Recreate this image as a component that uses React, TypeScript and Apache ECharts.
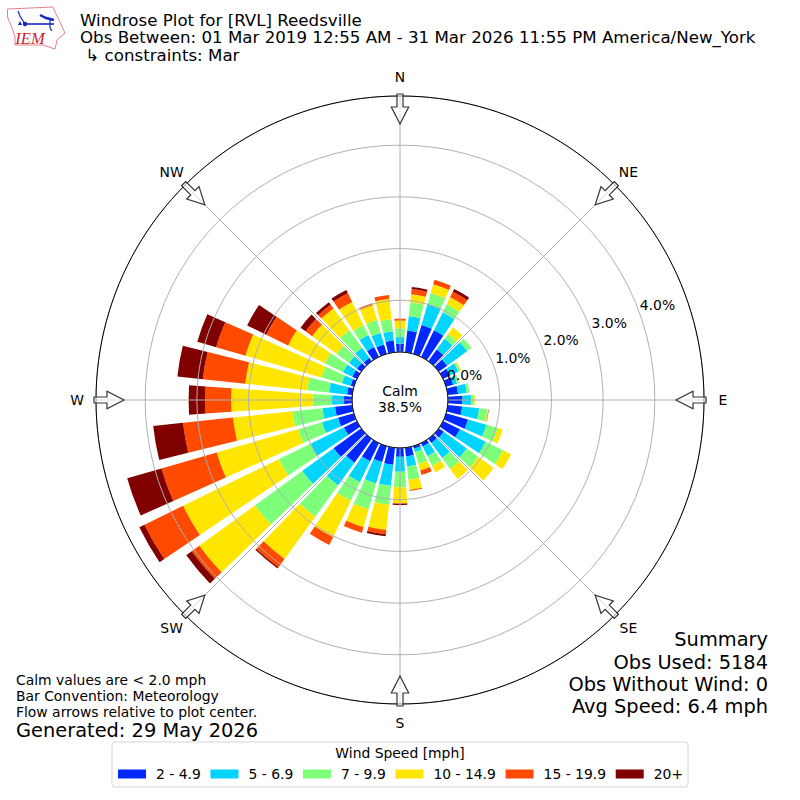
import React, { useEffect, useRef } from "react";
import * as echarts from "echarts";

const directions = Array.from({ length: 36 }, (_, i) => String(i * 10));
const speedClasses = ["2 - 4.9", "5 - 6.9", "7 - 9.9", "10 - 14.9", "15 - 19.9", "20+"];
const colors = ["#0028ff", "#00d4ff", "#7dff7a", "#ffe600", "#ff4a00", "#800000"];

const blue = [.16,.425,.58,.57,.28,.20,.15,.14,.2,.28,.28,.44,.36,.12,.10,.07,.05,.17,.17,.33,.32,.39,.57,.66,.28,.32,.335,.155,.10,.065,.10,.10,.08,.21,.19,.23];
const cyan = [.13,.275,.42,.39,.255,.48,.18,.08,.17,.165,.33,.37,.555,.55,.36,.21,.07,.19,.29,.41,.43,.45,.54,.75,.72,.32,.245,.232,.35,.175,.20,.19,.24,.26,.23,.18];
const green = [.17,.27,.22,.17,.115,.10,.04,.04,.05,.045,.16,.23,.375,.28,.26,.21,.24,.26,.30,.37,.52,.40,.75,1.13,.68,.48,.58,.373,.426,.41,.39,.30,.42,.21,.26,.23];
const yellow = [.15,.16,.18,.15,.16,0,.02,.01,0,.03,.02,.095,.17,.36,.24,.14,.13,.20,.31,.49,.36,.78,1.01,1.33,2.06,1.64,1.16,1.58,1.204,1.53,.79,.58,.52,.50,.30,.40];
const orange = [.035,.10,.09,.12,0,0,0,0,0,0,.01,0,0,0,0,0,.09,.02,.01,.08,.11,.17,.20,.18,.83,1.11,.97,.50,.825,.59,.47,.16,.09,.19,.04,.075];
const dark = [0,.04,0,.06,0,0,0,0,0,0,0,0,0,0,0,0,0,0,.02,.04,0,0,.03,.13,.11,.69,.58,.32,.495,.38,.41,.12,.06,.07,0,0];
const speedValues = [blue, cyan, green, yellow, orange, dark];

const compass = ["N", "NE", "E", "SE", "S", "SW", "W", "NW"];
const radialTicks = ["0.0%", "1.0%", "2.0%", "3.0%", "4.0%"];
const titleLines = [
  "Windrose Plot for [RVL] Reedsville",
  "Obs Between: 01 Mar 2019 12:55 AM - 31 Mar 2026 11:55 PM America/New_York",
  " ↳ constraints: Mar",
];
const noteLines = ["Calm values are < 2.0 mph", "Bar Convention: Meteorology", "Flow arrows relative to plot center."];
const summaryLines = ["Summary", "Obs Used: 5184", "Obs Without Wind: 0", "Avg Speed: 6.4 mph"];

const FONT = "DejaVu Sans";
const CX = 400, CY = 400, R0 = 48, R = 304, LABEL_R = 323;

function text(x: number, y: number, t: string, fontSize: number, align = "left", fill = "#000") {
  return { type: "text", x, y, z: 30, silent: true, style: { text: t, fontSize, fontFamily: FONT, fill, align, verticalAlign: "middle" } };
}

function buildGraphics() {
  const g: any[] = [];
  titleLines.forEach((t, i) => g.push(text(80, 20 + i * 17.6, t, 16.67)));
  noteLines.forEach((t, i) => g.push(text(16, 680 + i * 16, t, 13.9)));
  g.push(text(16, 730, "Generated: 29 May 2026", 19.4));
  const sy = [639.5, 662, 684, 706];
  summaryLines.forEach((t, i) => g.push(text(768, sy[i], t, 19.4, "right")));
  g.push(text(CX, 391, "Calm", 13.9, "center"));
  g.push(text(CX, 407, "38.5%", 13.9, "center"));
  g.push(text(CX, 753, "Wind Speed [mph]", 13.9, "center"));
  radialTicks.forEach((t, i) => g.push(text(447 + 48.2 * i, 375 - 17.5 * i, t, 13.9)));
  compass.forEach((name, i) => {
    const th = (i * 45 * Math.PI) / 180;
    g.push(text(CX + LABEL_R * Math.sin(th), CY - LABEL_R * Math.cos(th), name, 13.9, "center"));
    g.push({
      type: "polygon",
      x: CX + R * Math.sin(th),
      y: CY - R * Math.cos(th),
      rotation: -th,
      z: 25,
      silent: true,
      shape: { points: [[-3, -2], [3, -2], [3, 11], [8.7, 11], [0, 28], [-8.7, 11], [-3, 11]] },
      style: { fill: "rgba(255,255,255,0.6)", stroke: "#333", lineWidth: 1.2 },
    });
  });
  // IEM logo
  g.push({
    type: "polygon", z: 30, silent: true,
    shape: { points: [[7.5, 9], [53, 7], [55, 12], [59, 20], [65, 33], [57, 40], [55, 49], [43, 45], [15, 45], [15, 37], [12, 28], [7.5, 17]] },
    style: { fill: "#fff", stroke: "#e8808c", lineWidth: 1 },
  });
  const bl = "#1525c8";
  const seg = (pts: number[][], w: number) => g.push({ type: "polyline", z: 31, silent: true, shape: { points: pts }, style: { stroke: bl, lineWidth: w, fill: "none" } });
  seg([[25, 24], [54, 24]], 1.6);
  seg([[18, 11], [20, 16], [25, 24]], 1.2);
  seg([[40, 15], [46, 18], [54, 20]], 2.4);
  seg([[50, 19], [50, 28], [52, 31]], 1.2);
  g.push({ type: "circle", z: 31, silent: true, shape: { cx: 25, cy: 24, r: 2.2 }, style: { fill: bl } });
  g.push({ type: "polygon", z: 31, silent: true, shape: { points: [[18, 25], [20, 21], [22, 25]] }, style: { fill: bl } });
  g.push({ type: "text", z: 31, silent: true, x: 30, y: 38, style: { text: "IEM", fontFamily: "Liberation Serif", fontStyle: "italic", fontSize: 16.5, fill: "#d02030", align: "center", verticalAlign: "middle" } });
  return g;
}

export default function App() {
  const ref = useRef<HTMLDivElement>(null);
  useEffect(() => {
    const chart = echarts.init(ref.current!, undefined, { renderer: "svg" });
    chart.setOption({
      animation: false,
      backgroundColor: "#fff",
      textStyle: { fontFamily: FONT },
      polar: [
        { center: [CX, CY], radius: [R0, R] },
        { center: [CX, CY], radius: [R0, R] },
      ],
      angleAxis: [
        { polarIndex: 0, type: "category", data: directions, startAngle: 95, clockwise: true, boundaryGap: true, show: false },
        {
          polarIndex: 1, type: "value", min: 0, max: 360, interval: 45, startAngle: 90, clockwise: true, z: 6,
          axisLine: { show: true, lineStyle: { color: "#000", width: 1 } },
          axisTick: { show: false },
          splitLine: { show: true, lineStyle: { color: "#b0b0b0", width: 1 } },
          axisLabel: { show: false },
        },
      ],
      radiusAxis: [
        { polarIndex: 0, type: "value", min: 0, max: 4.95, show: false },
        {
          polarIndex: 1, type: "value", min: 0, max: 4.95, interval: 1, z: 5,
          axisLine: { show: false }, axisTick: { show: false }, axisLabel: { show: false },
          splitLine: { show: true, lineStyle: { color: "#b0b0b0", width: 1 } },
        },
      ],
      legend: {
        left: 112, top: 742, orient: "horizontal", icon: "rect", itemWidth: 28, itemHeight: 9, itemGap: 9.7,
        padding: [25, 5, 6, 6], backgroundColor: "#fff", borderColor: "#d5d5d5", borderWidth: 1, borderRadius: 3,
        textStyle: { fontSize: 13.9, fontFamily: FONT, color: "#000", padding: [0, 0, 0, 5] },
        data: speedClasses,
      },
      series: speedClasses.map((name, i) => ({
        name, type: "bar", coordinateSystem: "polar", polarIndex: 0, stack: "rose", barWidth: "80%",
        itemStyle: { color: colors[i] }, data: speedValues[i], z: 2,
      })),
      graphic: { elements: buildGraphics() },
    });
    return () => chart.dispose();
  }, []);
  return <div ref={ref} style={{ position: "fixed", left: 0, top: 0, width: 800, height: 800 }} />;
}
